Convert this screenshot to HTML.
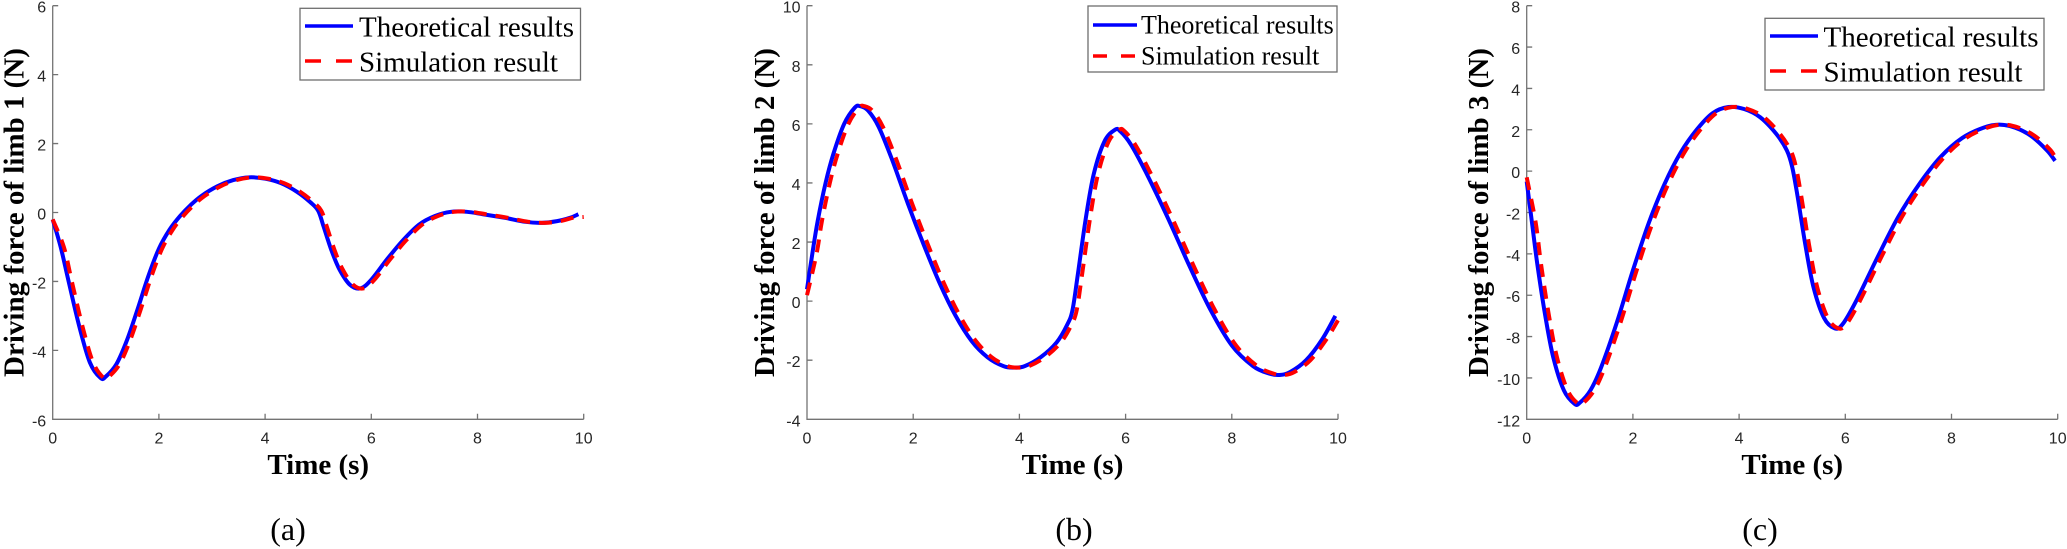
<!DOCTYPE html>
<html><head><meta charset="utf-8">
<style>
html,body{margin:0;padding:0;background:#fff;}
svg{display:block;}
.tk{font-family:"Liberation Sans",Arial,sans-serif;font-size:16px;fill:#262626;}
.lab{font-family:"Liberation Serif","Times New Roman",serif;font-weight:bold;font-size:29px;fill:#000;}
.leg{font-family:"Liberation Serif","Times New Roman",serif;font-size:29px;fill:#000;}
.legb{font-family:"Liberation Serif","Times New Roman",serif;font-size:26px;fill:#000;}
.pan{font-family:"Liberation Serif","Times New Roman",serif;font-size:32px;fill:#000;}
.ax{fill:none;stroke:#737373;stroke-width:1.3;}
.lb{fill:none;stroke:#0000ff;stroke-width:4;stroke-linejoin:round;}
.lr{fill:none;stroke:#ff0000;stroke-width:4;stroke-dasharray:13 9;}
.box{fill:#fff;stroke:#6e6e6e;stroke-width:1.3;}
</style></head><body>
<svg id="s" width="2067" height="549" viewBox="0 0 2067 549" xmlns="http://www.w3.org/2000/svg">
<rect width="2067" height="549" fill="#fff"/>

<!-- ===== Panel (a) ===== -->
<path class="ax" d="M52.7,5.7V419.3H583.7
M52.7,5.7h5.5 M52.7,74.63h5.5 M52.7,143.57h5.5 M52.7,212.5h5.5 M52.7,281.43h5.5 M52.7,350.37h5.5
M158.9,419.3v-5.5 M265.1,419.3v-5.5 M371.3,419.3v-5.5 M477.5,419.3v-5.5 M583.7,419.3v-5.5"/>
<g class="tk" text-anchor="end">
<text x="46.2" y="12.7">6</text>
<text x="46.2" y="81.6">4</text>
<text x="46.2" y="150.6">2</text>
<text x="46.2" y="219.5">0</text>
<text x="46.2" y="288.4">-2</text>
<text x="46.2" y="357.4">-4</text>
<text x="46.2" y="426.3">-6</text>
</g>
<g class="tk" text-anchor="middle">
<text x="52.7" y="443.3">0</text>
<text x="158.9" y="443.3">2</text>
<text x="265.1" y="443.3">4</text>
<text x="371.3" y="443.3">6</text>
<text x="477.5" y="443.3">8</text>
<text x="583.7" y="443.3">10</text>
</g>
<text class="lab" text-anchor="middle" transform="translate(23.3,212.5) rotate(-90)">Driving force of limb 1 (N)</text>
<text class="lab" text-anchor="middle" x="318.2" y="474">Time (s)</text>
<text class="pan" text-anchor="middle" x="288" y="540">(a)</text>
<path id="ba" class="lb" d=""/>
<path id="ra" class="lr" d=""/>
<rect class="box" x="300" y="8.3" width="280.5" height="71.7"/>
<path d="M305,26H353" stroke="#0000ff" stroke-width="3.5"/>
<path d="M305,61H353" stroke="#ff0000" stroke-width="3.5" stroke-dasharray="16 15"/>
<text class="leg" x="359" y="36.7">Theoretical results</text>
<text class="leg" x="359" y="71.7">Simulation result</text>

<!-- ===== Panel (b) ===== -->
<path class="ax" d="M807,5.7V419.3H1338
M807,5.7h5.5 M807,64.79h5.5 M807,123.87h5.5 M807,182.96h5.5 M807,242.04h5.5 M807,301.13h5.5 M807,360.21h5.5
M913.2,419.3v-5.5 M1019.4,419.3v-5.5 M1125.6,419.3v-5.5 M1231.8,419.3v-5.5 M1338,419.3v-5.5"/>
<g class="tk" text-anchor="end">
<text x="800.5" y="12.7">10</text>
<text x="800.5" y="71.8">8</text>
<text x="800.5" y="130.9">6</text>
<text x="800.5" y="190">4</text>
<text x="800.5" y="249">2</text>
<text x="800.5" y="308.1">0</text>
<text x="800.5" y="367.2">-2</text>
<text x="800.5" y="426.3">-4</text>
</g>
<g class="tk" text-anchor="middle">
<text x="807" y="443.3">0</text>
<text x="913.2" y="443.3">2</text>
<text x="1019.4" y="443.3">4</text>
<text x="1125.6" y="443.3">6</text>
<text x="1231.8" y="443.3">8</text>
<text x="1338" y="443.3">10</text>
</g>
<text class="lab" text-anchor="middle" transform="translate(774,212.5) rotate(-90)">Driving force of limb 2 (N)</text>
<text class="lab" text-anchor="middle" x="1072.5" y="474">Time (s)</text>
<text class="pan" text-anchor="middle" x="1074" y="540">(b)</text>
<path id="bb" class="lb" d=""/>
<path id="rb" class="lr" d=""/>
<rect class="box" x="1088" y="6" width="249" height="66"/>
<path d="M1093,25H1137" stroke="#0000ff" stroke-width="3.5"/>
<path d="M1093,56H1137" stroke="#ff0000" stroke-width="3.5" stroke-dasharray="14 14"/>
<text class="legb" x="1141" y="33.5">Theoretical results</text>
<text class="legb" x="1141" y="64.5">Simulation result</text>

<!-- ===== Panel (c) ===== -->
<path class="ax" d="M1526.7,5.7V419.3H2057.7
M1526.7,5.7h5.5 M1526.7,47.06h5.5 M1526.7,88.42h5.5 M1526.7,129.78h5.5 M1526.7,171.14h5.5 M1526.7,212.5h5.5 M1526.7,253.86h5.5 M1526.7,295.22h5.5 M1526.7,336.58h5.5 M1526.7,377.94h5.5
M1632.9,419.3v-5.5 M1739.1,419.3v-5.5 M1845.3,419.3v-5.5 M1951.5,419.3v-5.5 M2057.7,419.3v-5.5"/>
<g class="tk" text-anchor="end">
<text x="1520.2" y="12.7">8</text>
<text x="1520.2" y="54.1">6</text>
<text x="1520.2" y="95.4">4</text>
<text x="1520.2" y="136.8">2</text>
<text x="1520.2" y="178.1">0</text>
<text x="1520.2" y="219.5">-2</text>
<text x="1520.2" y="260.9">-4</text>
<text x="1520.2" y="302.2">-6</text>
<text x="1520.2" y="343.6">-8</text>
<text x="1520.2" y="384.9">-10</text>
<text x="1520.2" y="426.3">-12</text>
</g>
<g class="tk" text-anchor="middle">
<text x="1526.7" y="443.3">0</text>
<text x="1632.9" y="443.3">2</text>
<text x="1739.1" y="443.3">4</text>
<text x="1845.3" y="443.3">6</text>
<text x="1951.5" y="443.3">8</text>
<text x="2057.7" y="443.3">10</text>
</g>
<text class="lab" text-anchor="middle" transform="translate(1488,212.5) rotate(-90)">Driving force of limb 3 (N)</text>
<text class="lab" text-anchor="middle" x="1792.2" y="474">Time (s)</text>
<text class="pan" text-anchor="middle" x="1760" y="540">(c)</text>
<path id="bc" class="lb" d=""/>
<path id="rc" class="lr" d=""/>
<rect class="box" x="1765" y="18.3" width="279" height="71.7"/>
<path d="M1770,36H1818" stroke="#0000ff" stroke-width="3.5"/>
<path d="M1770,71H1818" stroke="#ff0000" stroke-width="3.5" stroke-dasharray="16 15"/>
<text class="leg" x="1823.5" y="46.7">Theoretical results</text>
<text class="leg" x="1823.5" y="81.7">Simulation result</text>
</svg>
<script>
(function(){
function cr(pts){
  var d='M'+pts[0][0].toFixed(2)+','+pts[0][1].toFixed(2);
  var n=pts.length;
  for(var i=0;i<n-1;i++){
    var p0=pts[i>0?i-1:i],p1=pts[i],p2=pts[i+1],p3=pts[i+2<n?i+2:i+1];
    var c1x=p1[0]+(p2[0]-p0[0])/6,c1y=p1[1]+(p2[1]-p0[1])/6;
    var c2x=p2[0]-(p3[0]-p1[0])/6,c2y=p2[1]-(p3[1]-p1[1])/6;
    d+='C'+c1x.toFixed(2)+','+c1y.toFixed(2)+' '+c2x.toFixed(2)+','+c2y.toFixed(2)+' '+p2[0].toFixed(2)+','+p2[1].toFixed(2);
  }
  return d;
}
function mk(L,vmin,vmax){
  var k=413.6/(vmax-vmin);
  return function(p){return [L+p[0]*53.1, 419.3-(p[1]-vmin)*k];};
}
function red(blue,dt,start,end){
  var r=[[0,start]];
  for(var i=1;i<blue.length-1;i++){var t=blue[i][0]+dt; if(t<10) r.push([t,blue[i][1]]);}
  r.push([10,end]);
  return r;
}
var A=[[0,-0.2],[0.15,-1.0],[0.3,-2.0],[0.5,-3.3],[0.7,-4.35],[0.9,-4.8],[1.0,-4.76],[1.2,-4.4],[1.4,-3.7],[1.6,-2.8],[1.8,-1.85],[2.0,-1.05],[2.2,-0.5],[2.4,-0.1],[2.6,0.22],[2.8,0.48],[3.1,0.76],[3.4,0.94],[3.7,1.02],[4.0,0.98],[4.3,0.85],[4.6,0.6],[4.85,0.3],[5.0,0.05],[5.1,-0.4],[5.25,-1.1],[5.4,-1.65],[5.6,-2.1],[5.8,-2.2],[6.0,-1.95],[6.3,-1.35],[6.6,-0.8],[6.9,-0.35],[7.2,-0.1],[7.5,0.02],[7.8,0.02],[8.1,-0.05],[8.5,-0.15],[8.9,-0.27],[9.2,-0.3],[9.5,-0.25],[9.75,-0.15],[9.9,-0.05]];
var B=[[0,0.4],[0.1,1.6],[0.2,2.7],[0.35,4.0],[0.5,5.0],[0.7,6.0],[0.9,6.55],[1.0,6.6],[1.15,6.45],[1.35,5.9],[1.6,4.8],[1.9,3.3],[2.2,1.9],[2.5,0.6],[2.8,-0.5],[3.1,-1.35],[3.4,-1.9],[3.7,-2.2],[3.9,-2.25],[4.1,-2.2],[4.4,-1.9],[4.7,-1.4],[4.9,-0.8],[5.0,-0.3],[5.1,0.9],[5.25,2.8],[5.4,4.3],[5.6,5.4],[5.8,5.8],[5.9,5.75],[6.1,5.3],[6.4,4.3],[6.8,2.8],[7.2,1.2],[7.6,-0.3],[8.0,-1.5],[8.4,-2.2],[8.7,-2.45],[8.9,-2.5],[9.1,-2.4],[9.4,-2.0],[9.7,-1.3],[9.95,-0.5]];
var C=[[0,-0.5],[0.1,-2.5],[0.2,-4.5],[0.35,-7.0],[0.5,-9.0],[0.7,-10.6],[0.9,-11.25],[1.0,-11.2],[1.2,-10.6],[1.4,-9.5],[1.7,-7.3],[2.0,-4.8],[2.3,-2.5],[2.6,-0.6],[2.9,0.9],[3.2,2.0],[3.5,2.8],[3.8,3.1],[4.1,3.0],[4.4,2.6],[4.7,1.8],[4.9,1.0],[5.0,0.2],[5.1,-1.2],[5.25,-3.6],[5.4,-5.6],[5.6,-7.1],[5.8,-7.6],[5.95,-7.4],[6.2,-6.3],[6.6,-4.2],[7.0,-2.2],[7.4,-0.6],[7.8,0.7],[8.2,1.6],[8.6,2.1],[8.9,2.25],[9.2,2.1],[9.5,1.7],[9.8,1.0],[9.95,0.5]];
var fa=mk(52.7,-6,6), fb=mk(807,-4,10), fc=mk(1526.7,-12,8);
function set(id,data,f){document.getElementById(id).setAttribute('d',cr(data.map(f)));}
set('ba',A,fa); set('ra',red(A,0.06,-0.2,-0.13),fa);
set('bb',B,fb); set('rb',red(B,0.08,0.2,-0.65),fb);
set('bc',C,fc); set('rc',red(C,0.07,-0.3,0.4),fc);
})();
</script>
</body></html>
